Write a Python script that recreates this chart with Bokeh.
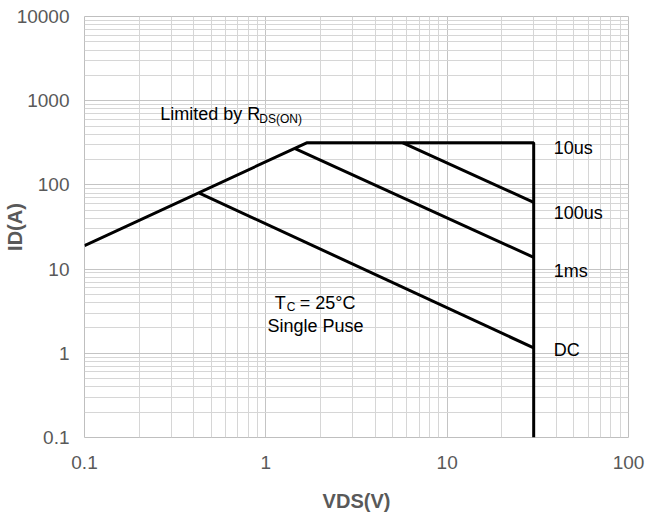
from bokeh.plotting import figure
from bokeh.models import Range1d, FixedTicker, Label
from bokeh.embed import file_html
from bokeh.resources import INLINE

# ---------------- data ----------------
x_ticks = [0.1, 1, 10, 100]
y_ticks = [0.1, 1, 10, 100, 1000, 10000]
x_tick_labels = ["0.1", "1", "10", "100"]
y_tick_labels = ["0.1", "1", "10", "100", "1000", "10000"]

# boundary: RDS(on) limit -> current limit -> VDS max
boundary_v = [0.1, 1.68, 30, 30]
boundary_i = [19, 316, 316, 0.1]
# pulse lines
us10_v = [5.7, 30]
us10_i = [316, 62]
us100_v = [1.44, 30]
us100_i = [272, 13.8]
dc_v = [0.43, 30]
dc_i = [80, 1.16]

curve_names = ["10us", "100us", "1ms", "DC"]
curve_label_v = [38.7, 38.7, 38.7, 38.7]
curve_label_i = [278, 47, 9.6, 1.08]

FONT = "Liberation Sans"
GRAY = "#595959"

p = figure(width=646, height=518, x_axis_type="log", y_axis_type="log",
           x_range=Range1d(0.1, 100), y_range=Range1d(0.1, 10000),
           output_backend="svg", toolbar_location=None,
           min_border_left=82, min_border_right=18,
           min_border_top=16, min_border_bottom=81)
p.background_fill_color = "white"
p.border_fill_color = "white"
p.outline_line_color = "#bfbfbf"
p.outline_line_width = 1

x_minor = [k * 10.0 ** e for e in range(-1, 2) for k in range(2, 10)]
y_minor = [k * 10.0 ** e for e in range(-1, 4) for k in range(2, 10)]
p.xaxis.ticker = FixedTicker(ticks=x_ticks, minor_ticks=x_minor)
p.yaxis.ticker = FixedTicker(ticks=y_ticks, minor_ticks=y_minor)
p.xaxis.major_label_overrides = {t: s for t, s in zip(x_ticks, x_tick_labels)}
p.yaxis.major_label_overrides = {t: s for t, s in zip(y_ticks, y_tick_labels)}

for ax in (p.xaxis, p.yaxis):
    ax.axis_line_color = None
    ax.major_tick_line_color = None
    ax.minor_tick_line_color = None
    ax.major_tick_out = 0
    ax.major_tick_in = 0
    ax.minor_tick_out = 0
    ax.minor_tick_in = 0
    ax.major_label_text_font = FONT
    ax.major_label_text_font_size = "19px"
    ax.major_label_text_color = GRAY
    ax.axis_label_text_font = FONT
    ax.axis_label_text_font_style = "bold"
    ax.axis_label_text_color = GRAY
    ax.axis_label_text_font_size = "20px"
p.xaxis.major_label_standoff = 18
p.yaxis.major_label_standoff = 15
p.xaxis.axis_label = "VDS(V)"
p.yaxis.axis_label = "ID(A)"
p.xaxis.axis_label_standoff = 18
p.yaxis.axis_label_standoff = -12

for g in (p.xgrid, p.ygrid):
    g.grid_line_color = "#c4c4c4"
    g.grid_line_width = 1
    g.minor_grid_line_color = "#d6d6d6"
    g.minor_grid_line_width = 1

lw = 3
p.line(boundary_v, boundary_i, line_color="black", line_width=lw)
p.line(us10_v, us10_i, line_color="black", line_width=lw)
p.line(us100_v, us100_i, line_color="black", line_width=lw)
p.line(dc_v, dc_i, line_color="black", line_width=lw)


def lab(x, y, text, size, xo=0, yo=0, align="left", baseline="alphabetic"):
    p.add_layout(Label(x=x, y=y, text=text, x_offset=xo, y_offset=yo,
                       text_font=FONT, text_font_size=size,
                       text_color="black", text_align=align,
                       text_baseline=baseline))


# curve labels
for name, xv, yv in zip(curve_names, curve_label_v, curve_label_i):
    lab(xv, yv, name, "18px", baseline="middle")

# Limited by RDS(ON)
lab(0.2616, 686, "Limited by R", "18px")
lab(0.2616, 686, "DS(ON)", "12px", xo=99, yo=-5)

# Tc = 25°C / Single Puse
tc_v, tc_i = 1.12, 10 ** ((352.8 - 302) / 84.2)
lab(tc_v, tc_i, "T", "18px")
lab(tc_v, tc_i, "C", "12px", xo=12, yo=-4)
lab(tc_v, tc_i, "= 25°C", "18px", xo=25)
lab(1.88, 10 ** ((352.8 - 325) / 84.2), "Single Puse", "18px", align="center")

open("out.html", "w").write(file_html(p, INLINE))
